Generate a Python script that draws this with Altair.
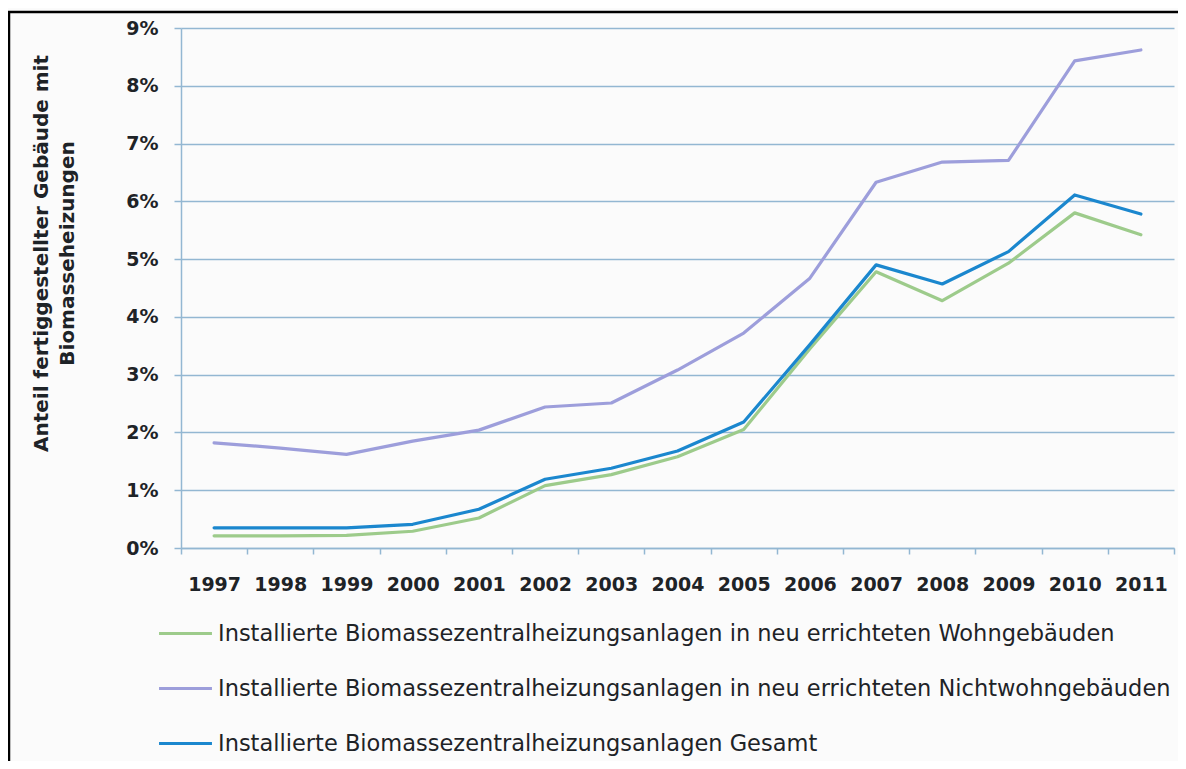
import altair as alt
import pandas as pd

# ---- data (percent values) ----
years = [str(y) for y in range(1997, 2012)]
series_names = [
    "Installierte Biomassezentralheizungsanlagen in neu errichteten Wohngebäuden",
    "Installierte Biomassezentralheizungsanlagen in neu errichteten Nichtwohngebäuden",
    "Installierte Biomassezentralheizungsanlagen Gesamt",
]
wohn = [0.21, 0.21, 0.22, 0.29, 0.52, 1.08, 1.27, 1.58, 2.05, 3.45, 4.78, 4.28, 4.93, 5.80, 5.42]
nichtwohn = [1.82, 1.73, 1.62, 1.85, 2.04, 2.44, 2.51, 3.08, 3.72, 4.67, 6.33, 6.68, 6.71, 8.43, 8.62]
gesamt = [0.35, 0.35, 0.35, 0.41, 0.67, 1.19, 1.38, 1.68, 2.18, 3.52, 4.90, 4.57, 5.13, 6.11, 5.78]
y_ticks = [0, 1, 2, 3, 4, 5, 6, 7, 8, 9]

colors = ["#9DCB8B", "#9D9EDB", "#1B87CE"]
widths = [3.2, 3.2, 4.5]

rows = []
for name, vals in zip(series_names, [wohn, nichtwohn, gesamt]):
    for yr, v in zip(years, vals):
        rows.append({"Jahr": yr, "Serie": name, "Anteil": v})
df = pd.DataFrame(rows)

FONT = "DejaVu Sans"
GRID = "#93B7D2"
TEXT = "#1e2327"

x_enc = alt.X(
    "Jahr:O",
    sort=years,
    bandPosition=0.5,
    scale=alt.Scale(type="band", paddingInner=0, paddingOuter=0),
    axis=alt.Axis(
        title=None, labelAngle=0, grid=False, tickBand="extent",
        tickSize=6, tickColor=GRID, tickWidth=1.5,
        domainColor=GRID, domainWidth=1.5,
        labelPadding=21, labelFont=FONT, labelFontSize=19,
        labelFontWeight="bold", labelColor=TEXT,
    ),
)
y_enc = alt.Y(
    "Anteil:Q",
    scale=alt.Scale(domain=[0, 9], nice=False, zero=True),
    axis=alt.Axis(
        title=["Anteil fertiggestellter Gebäude mit", "Biomasseheizungen"],
        values=y_ticks, labelExpr="datum.value + '%'",
        grid=True, gridColor=GRID, gridWidth=1.5,
        tickSize=7, tickColor=GRID, tickWidth=1.5,
        domainColor=GRID, domainWidth=1.5,
        labelPadding=16, labelFont=FONT, labelFontSize=19,
        labelFontWeight="bold", labelColor=TEXT,
        titleFont=FONT, titleFontSize=20, titleFontWeight="bold",
        titleColor=TEXT, titleLineHeight=26, titlePadding=48, titleY=225,
    ),
)
color_enc = alt.Color(
    "Serie:N", scale=alt.Scale(domain=series_names, range=colors),
    legend=alt.Legend(title=None),
)
sw_enc = alt.StrokeWidth(
    "Serie:N", scale=alt.Scale(domain=series_names, range=widths),
    legend=alt.Legend(title=None),
)

base = alt.Chart(df).mark_line(strokeJoin="round", strokeCap="round").encode(
    x=x_enc, y=y_enc, color=color_enc, strokeWidth=sw_enc
)
lines_back = base.transform_filter(alt.datum.Serie != series_names[2])
lines_front = base.transform_filter(alt.datum.Serie == series_names[2])

frame_data = alt.Data(values=[{}])
border_left = alt.Chart(frame_data).mark_rule(color="black", strokeWidth=2.5).encode(
    x=alt.value(-172), y=alt.value(-16), y2=alt.value(760)
)
border_top = alt.Chart(frame_data).mark_rule(color="black", strokeWidth=2.5).encode(
    x=alt.value(-173), x2=alt.value(1010), y=alt.value(-16)
)

chart = (
    alt.layer(border_left, border_top, lines_back, lines_front)
    .properties(
        width=993, height=520,
        autosize=alt.AutoSizeParams(type="none"),
        padding={"left": 173, "top": 20, "right": 4, "bottom": 213},
        background="#FBFBFB",
    )
    .configure_view(stroke=None)
    .configure_legend(
        orient="none", legendX=-24, legendY=577, padding=0,
        symbolType="stroke", symbolSize=2800, symbolOffset=0,
        labelFont=FONT, labelFontSize=22.5, labelColor=TEXT,
        labelLimit=2000, labelOffset=4, rowPadding=15,
    )
)

chart.save("out.html", embed_options={"renderer": "svg", "actions": False})
